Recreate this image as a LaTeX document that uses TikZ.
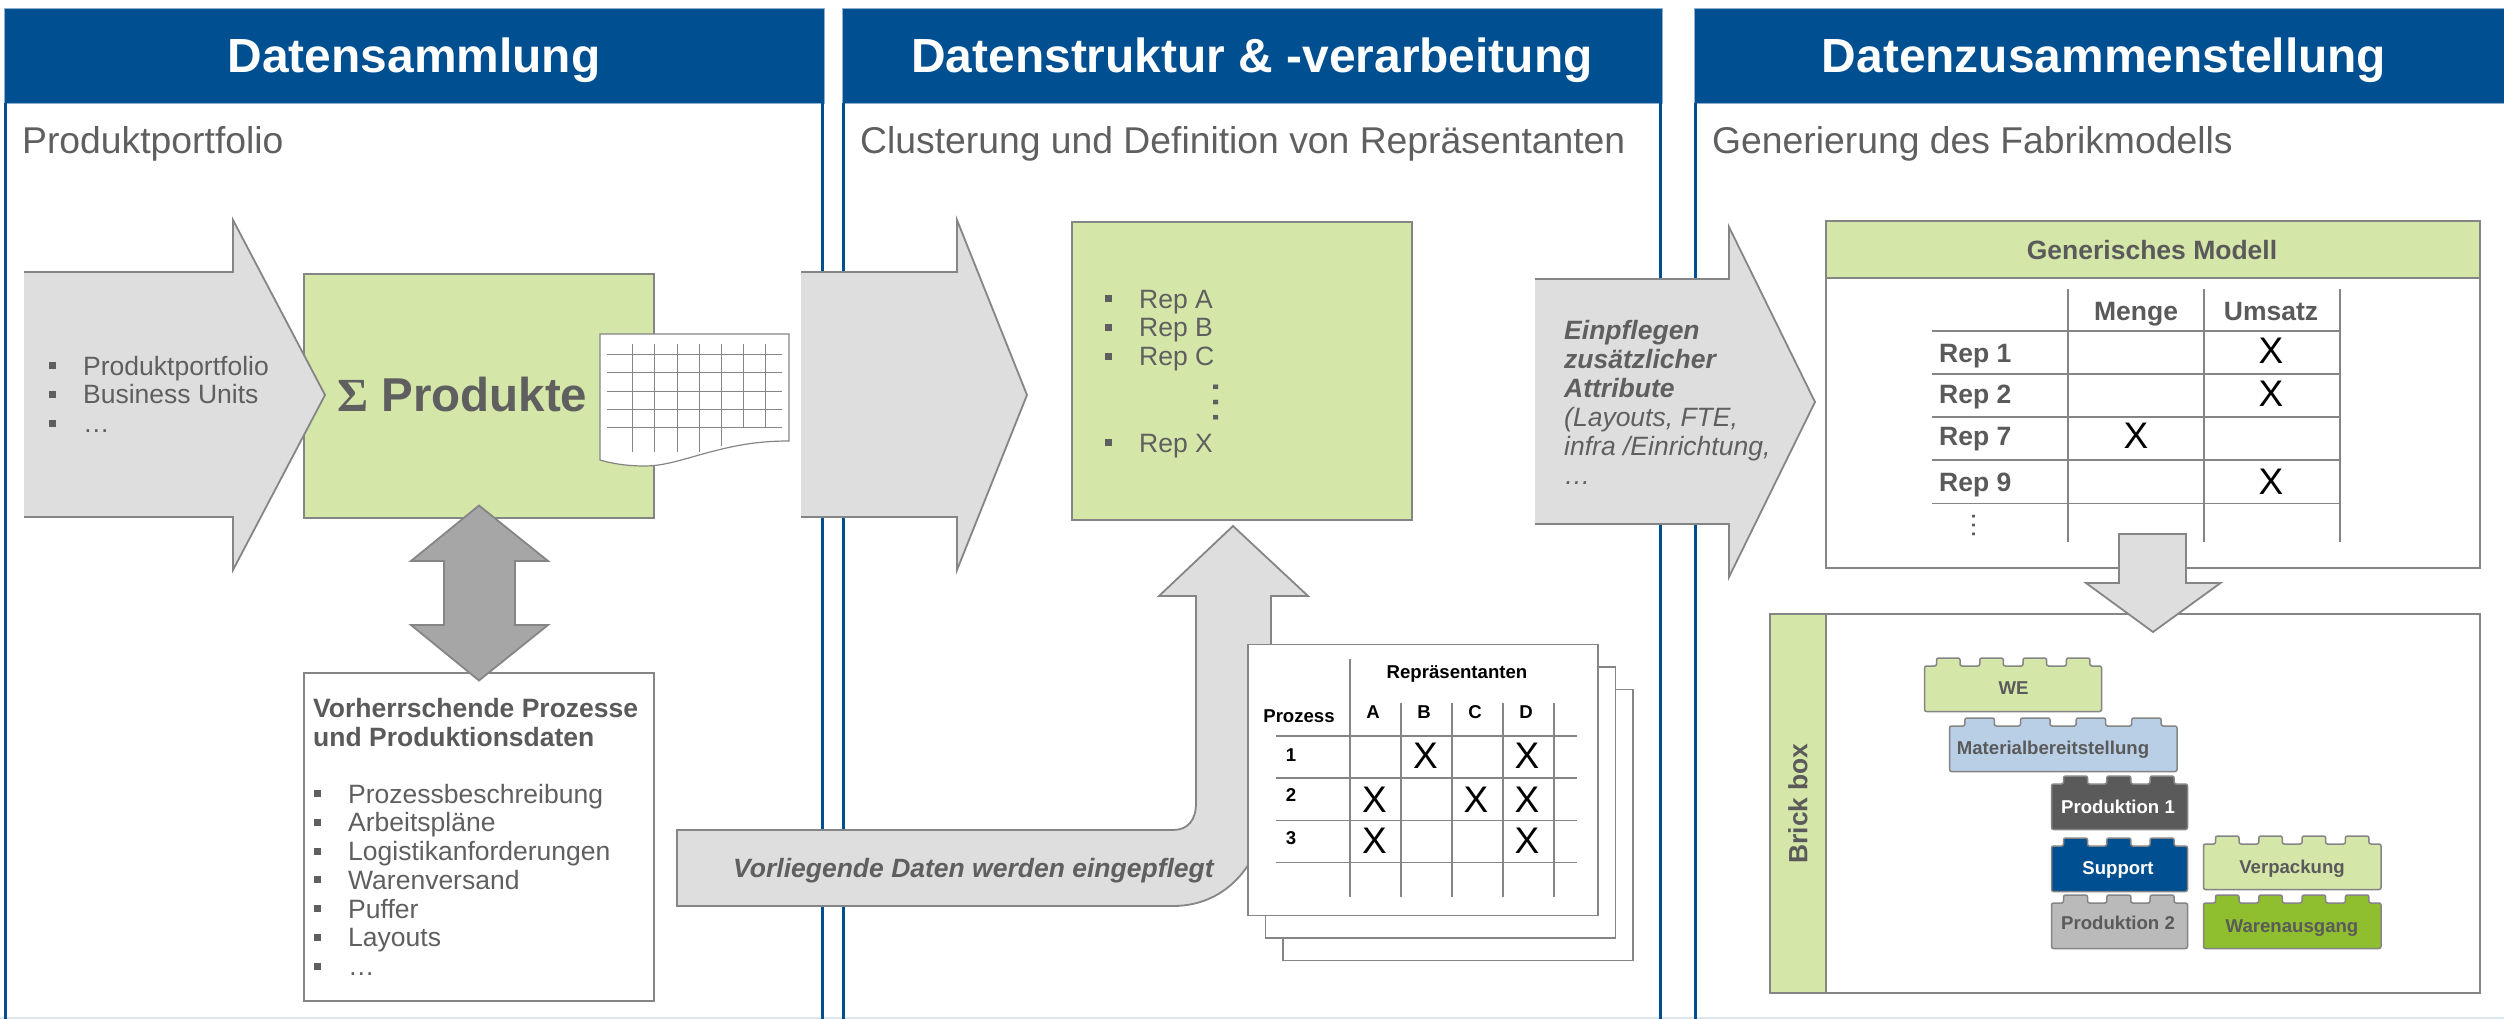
\documentclass[tikz,border=0pt]{standalone}
\usepackage{fontspec}
\setmainfont{Liberation Sans}
\newfontfamily\sumfont{Liberation Serif}
\usepackage{tikz}
\usetikzlibrary{positioning}

\definecolor{headblue}{HTML}{004F91}
\definecolor{headedge}{HTML}{8FB0CF}
\definecolor{footline}{HTML}{D9E6F1}
\definecolor{leaf}{HTML}{D5E6A9}
\definecolor{leafdark}{HTML}{8FBE2F}
\definecolor{sky}{HTML}{B9CFE6}
\definecolor{shaft}{HTML}{DEDEDE}
\definecolor{shaftdark}{HTML}{A6A6A6}
\definecolor{edgegray}{HTML}{858585}
\definecolor{inkgray}{HTML}{5F5F5F}
\definecolor{slate}{HTML}{5A5A5A}
\definecolor{stone}{HTML}{BABABA}

\newcommand{\bodyfont}{\fontsize{26.5}{28.75}\selectfont}
\newcommand{\brickfont}{\fontsize{18.6}{22}\selectfont\bfseries}
\newcommand{\bul}{\makebox[34pt][l]{\textcolor{inkgray}{\rule[6pt]{7pt}{7pt}}}}
\newcommand{\brick}[8]{%
  \draw[brickline,#1] (#2,#3+45.5) -- (#2,#3)
  \foreach \s [evaluate=\s as \sx using #2+#5+(\s-1)*#7] in {1,...,#8} {
    -- (\sx,#3) -- (\sx,#3-8) -- (\sx+#6,#3-8) -- (\sx+#6,#3)
  } -- (#2+#4,#3) -- (#2+#4,#3+45.5) -- cycle;}

\tikzset{
  panelhead/.style={fill=headblue,draw=headedge,line width=0.8pt,text=white,inner sep=0pt,
    font=\fontsize{47.9}{50}\selectfont\bfseries,minimum height=95,text height=40pt,text depth=5pt},
  panelline/.style={draw=headblue,line width=3.7pt},
  subtitle/.style={anchor=base west,inner sep=0pt,text=inkgray,font=\fontsize{37.3}{40}\selectfont},
  graybox/.style={draw=edgegray,line width=1.8pt,inner sep=0pt},
  greenbox/.style={graybox,fill=leaf},
  whitebox/.style={graybox,fill=white},
  blockarrow/.style={draw=edgegray,line width=1.8pt,fill=shaft,line join=miter},
  listtext/.style={anchor=base west,align=left,inner sep=0pt,text=inkgray,font=\bodyfont},
  boldtext/.style={anchor=base west,align=left,inner sep=0pt,text=slate,font=\bodyfont\bfseries},
  ruleline/.style={draw=edgegray,line width=1.2pt},
  gridline/.style={draw=edgegray,line width=0.8pt},
  tablehead/.style={anchor=base,inner sep=0pt,text=black,font=\fontsize{18.6}{22}\selectfont\bfseries},
  crossmark/.style={inner sep=0pt,text=black,font=\fontsize{37}{40}\selectfont},
  brickline/.style={draw=edgegray,line width=1.5pt,rounded corners=2pt},
  bricktext/.style={anchor=base,inner sep=0pt,text=slate,font=\brickfont},
  vdots/.style={rotate=-90,inner sep=0pt,text=inkgray}
}

\begin{document}
\begin{tikzpicture}[x=1pt,y=-1pt,on grid,node distance=100pt]
  \useasboundingbox (0,0) rectangle (2504,1019);
  \draw[footline,line width=2pt] (0,1018) -- (2504,1018);

  \node[panelhead,minimum width=820] (head1) at (414,55.5) {Datensammlung};
  \node[panelhead,minimum width=820,right=838pt of head1] (head2) {Datenstruktur \& -verarbeitung};
  \node[panelhead,minimum width=820,right=852pt of head2] (head3) {Datenzusammenstellung};
  \draw[panelline] ([xshift=2pt]head1.south west) -- ++(0,916);
  \draw[panelline] ([xshift=-2pt]head1.south east) -- ++(0,916);
  \draw[panelline] ([xshift=2pt]head2.south west) -- ++(0,916);
  \draw[panelline] ([xshift=-2pt]head2.south east) -- ++(0,916);
  \draw[panelline] ([xshift=2pt]head3.south west) -- ++(0,916);

  \node[subtitle] (sub1) at (22,153.5) {Produktportfolio};
  \node[subtitle] (sub2) at (860,153.5) {Clusterung und Definition von Repräsentanten};
  \node[subtitle] (sub3) at (1712,153.5) {Generierung des Fabrikmodells};

  \node[greenbox,minimum width=350,minimum height=244] (sumbox) at (479,396) {};
  \draw[blockarrow] (24,272) -- (233,272) -- (233,220) -- (325,395) -- (233,570) -- (233,517) -- (24,517);
  \node[listtext] (portfolio) at (49,432.5) {\bul Produktportfolio\\\bul Business Units\\\bul …};
  \node[anchor=base west,inner sep=0pt,text=inkgray,font=\fontsize{47.5}{50}\selectfont\bfseries] (sumtext) at (337,411.5) {{\sumfont Σ} Produkte};

  \draw[draw=edgegray,line width=1.2pt,fill=white] (600,334) -- (789,334) -- (789,441)
    .. controls (750,441) and (725,448) .. (699,455)
    .. controls (675,462) and (660,466) .. (645,466)
    .. controls (625,466) and (610,463) .. (600,460) -- cycle;
  \foreach \ly in {354,372,391,409,427}
    \draw[gridline] (607,\ly) -- (782,\ly);
  \foreach \lx/\ly in {632/452,654/452,677/452,699/452,721/445.5,743/427,765/427}
    \draw[gridline] (\lx,344) -- (\lx,\ly);

  \node[whitebox,minimum width=350,minimum height=328,below=441pt of sumbox] (procbox) {};
  \node[boldtext] (proctitle) at (313,746) {Vorherrschende Prozesse\\und Produktionsdaten};
  \node[listtext] (proclist) at (314,975.5) {\bul Prozessbeschreibung\\\bul Arbeitspläne\\\bul Logistikanforderungen\\\bul Warenversand\\\bul Puffer\\\bul Layouts\\\bul …};
  \draw[blockarrow,fill=shaftdark] (479,505.5) -- (548,561) -- (515,561) -- (515,625) -- (548,625) -- (479,680.5) -- (411,625) -- (444,625) -- (444,561) -- (411,561) -- cycle;

  \draw[blockarrow] (801,272) -- (957,272) -- (957,220) -- (1027,395) -- (957,570) -- (957,517) -- (801,517);
  \node[greenbox,minimum width=340,minimum height=298] (repbox) at (1242,371) {};
  \node[listtext] (replist) at (1105,365.5) {\bul Rep A\\\bul Rep B\\\bul Rep C};
  \node[listtext] (repx) at (1105,452) {\bul Rep X};
  \node[vdots,font=\fontsize{48}{48}\selectfont] (repdots) at (1216,402) {…};

  \draw[blockarrow] (677,830) -- (1173,830) .. controls (1188,830) and (1196,820) .. (1196,803) -- (1196,596) -- (1159,596) -- (1233,526) -- (1308,596) -- (1271,596) -- (1271,780)
    .. controls (1271,850) and (1235,906) .. (1173,906) -- (677,906) -- cycle;
  \node[anchor=base west,inner sep=0pt,text=inkgray,font=\bodyfont\bfseries\itshape] (fedtext) at (733,877) {Vorliegende Daten werden eingepflegt};

  \node[whitebox,minimum width=350,minimum height=271] (sheet3) at (1458,825) {};
  \node[whitebox,minimum width=350,minimum height=271,above left=22.5pt and 17.5pt of sheet3] (sheet2) {};
  \node[whitebox,minimum width=350,minimum height=271,above left=22.5pt and 17.5pt of sheet2] (sheet1) {};
  \foreach \ly in {736,778,820.5,862.5}
    \draw[ruleline] (1276,\ly) -- (1577,\ly);
  \draw[ruleline] (1350,659) -- (1350,897);
  \foreach \lx in {1401,1452,1503,1554}
    \draw[ruleline] (\lx,703) -- (\lx,897);
  \node[tablehead] (reptitle) at (1457,678) {Repräsentanten};
  \node[tablehead] (prozess) at (1299,722) {Prozess};
  \foreach \lbl/\lx in {A/1373,B/1424,C/1475,D/1526}
    \node[tablehead] (col\lbl) at (\lx,718) {\lbl};
  \foreach \lbl/\ly in {1/761,2/801,3/844}
    \node[tablehead] (row\lbl) at (1291,\ly) {\lbl};
  \foreach \cx/\cy [count=\i] in {1425.5/756,1527/756,1374.5/800,1476/800,1527/800,1374.5/841,1527/841}
    \node[crossmark] (mark\i) at (\cx,\cy) {X};

  \draw[blockarrow] (1535,279) -- (1729,279) -- (1729,227) -- (1815,402) -- (1729,577) -- (1729,524) -- (1535,524);
  \node[boldtext,text=inkgray,font=\bodyfont\bfseries\itshape] (attrbold) at (1564,397) {Einpflegen\\zusätzlicher\\Attribute};
  \node[listtext,font=\bodyfont\itshape] (attrlist) at (1564,484) {(Layouts, FTE,\\infra /Einrichtung,\\…};

  \node[whitebox,minimum width=654,minimum height=347] (modelbox) at (2153,394.5) {};
  \node[greenbox,minimum width=654,minimum height=57] (modelhead) at (2153,249.5) {};
  \node[boldtext,anchor=base] (modeltitle) at (2152,259) {Generisches Modell};
  \foreach \ly in {331,374,417,460,503.5}
    \draw[ruleline] (1932,\ly) -- (2340,\ly);
  \foreach \lx in {2068,2204,2340}
    \draw[ruleline] (\lx,289) -- (\lx,542);
  \node[boldtext,anchor=base] (menge) at (2136,320) {Menge};
  \node[boldtext,anchor=base] (umsatz) at (2271,320) {Umsatz};
  \foreach \lbl/\ly in {1/362,2/403,7/445,9/491}
    \node[boldtext] (rep\lbl) at (1939,\ly) {Rep \lbl};
  \node[vdots,text=slate,font=\fontsize{28}{28}\selectfont] (tabledots) at (1974,525) {…};
  \foreach \cx/\cy [count=\i] in {2271/351,2271/394,2136/436,2271/482}
    \node[crossmark] (modelmark\i) at (\cx,\cy) {X};

  \node[whitebox,minimum width=710,minimum height=379] (brickbox) at (2125,803.5) {};
  \node[greenbox,rotate=90,minimum width=379,minimum height=55.5,font=\fontsize{26.4}{29}\selectfont\bfseries,text=slate] (brickstrip) at (1798,803.5) {Brick box};
  \draw[blockarrow] (2119,534) -- (2186,534) -- (2186,583) -- (2220.5,583) -- (2153,632) -- (2086,583) -- (2119,583) -- cycle;

  \brick{fill=leaf}{1924.5}{666}{177}{12}{23.5}{43.3}{4}
  \node[bricktext] (we) at (2013.5,694) {WE};
  \brick{fill=sky}{1949.5}{726}{227.5}{15.4}{29.5}{55.6}{4}
  \node[bricktext] (material) at (2053,754) {Materialbereitstellung};
  \brick{fill=slate}{2051.5}{784}{136}{12}{24}{43.3}{3}
  \node[bricktext,text=white] (prod1) at (2118,813) {Produktion 1};
  \brick{fill=headblue}{2051.5}{846}{136}{12}{24}{43.3}{3}
  \node[bricktext,text=white] (support) at (2118,874) {Support};
  \brick{fill=stone}{2051.5}{903}{136}{12}{24}{43.3}{3}
  \node[bricktext] (prod2) at (2118,929) {Produktion 2};
  \brick{fill=leaf}{2203.5}{844}{177.5}{12}{23.5}{43.3}{4}
  \node[bricktext] (verpackung) at (2292,873) {Verpackung};
  \brick{fill=leafdark}{2203.5}{903}{177.5}{12}{23.5}{43.3}{4}
  \node[bricktext] (warenausgang) at (2292,932) {Warenausgang};
\end{tikzpicture}
\end{document}
